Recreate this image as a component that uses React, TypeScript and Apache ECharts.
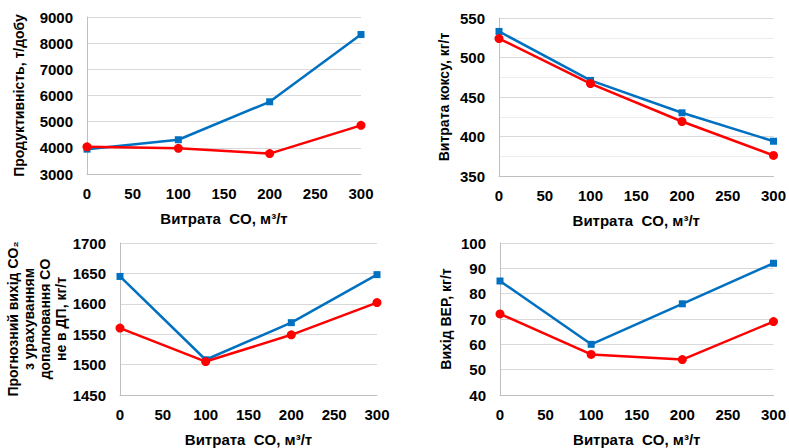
import React, { useEffect, useRef } from "react";
import * as echarts from "echarts";

const xValues = [0, 100, 200, 300];

const productivityBlue = [3950, 4310, 5760, 8330];
const productivityRed = [4040, 3980, 3780, 4860];

const cokeBlue = [533, 471, 430, 394];
const cokeRed = [524, 467, 419, 376];

const co2Blue = [1645, 1508, 1569, 1648];
const co2Red = [1560, 1505, 1549, 1602];

const verBlue = [85, 60, 76, 92];
const verRed = [72, 56, 54, 69];

const xTitle = "Витрата  CO, м³/т";
const yTitles = [
  "Продуктивність, т/добу",
  "Витрата коксу, кг/т",
  "Прогнозний вихід CO₂\nз урахуванням\nдопалювання CO\nне в ДП, кг/т",
  "Вихід ВЕР, кг/т",
];

const yRanges = [
  { min: 3000, max: 9000, interval: 1000, minor: false },
  { min: 350, max: 550, interval: 50, minor: true },
  { min: 1450, max: 1700, interval: 50, minor: false },
  { min: 40, max: 100, interval: 10, minor: false },
];

const BLUE = "#0070C0";
const RED = "#FF0000";
const FONT = "'Liberation Sans', Arial, sans-serif";

export default function App() {
  const ref = useRef<HTMLDivElement>(null);
  useEffect(() => {
    if (!ref.current) return;
    const chart = echarts.init(ref.current, undefined, { renderer: "svg" });
    const grids = [
      { left: 87, top: 17, width: 274, height: 157 },
      { left: 499, top: 18, width: 277, height: 158 },
      { left: 120, top: 243, width: 257, height: 157 },
      { left: 500, top: 243, width: 276, height: 158 },
    ];
    const nameGaps = [60, 47, 41, 46];
    const blues = [productivityBlue, cokeBlue, co2Blue, verBlue];
    const reds = [productivityRed, cokeRed, co2Red, verRed];
    const labelStyle = { color: "#000", fontWeight: "bold" as const, fontSize: 15, fontFamily: FONT };
    const titleStyle = { color: "#000", fontWeight: "bold" as const, fontSize: 14, fontFamily: FONT };
    const option: any = {
      animation: false,
      backgroundColor: "#fff",
      grid: grids,
      xAxis: grids.map((_, i) => ({
        type: "value",
        gridIndex: i,
        min: 0,
        max: 300,
        interval: 50,
        axisLine: { show: true, lineStyle: { color: "#bfbfbf", width: 1 } },
        axisTick: { show: false },
        splitLine: { show: false },
        axisLabel: { ...labelStyle, margin: 12 },
        name: xTitle,
        nameLocation: "middle",
        nameGap: 37,
        nameTextStyle: { ...titleStyle, fontSize: 15 },
      })),
      yAxis: grids.map((_, i) => ({
        type: "value",
        gridIndex: i,
        min: yRanges[i].min,
        max: yRanges[i].max,
        interval: yRanges[i].interval,
        axisLine: { show: true, lineStyle: { color: "#bfbfbf", width: 1 } },
        axisTick: { show: false },
        splitLine: { show: true, lineStyle: { color: "#d9d9d9", width: 1 } },
        minorTick: { show: false, splitNumber: 2 },
        minorSplitLine: { show: yRanges[i].minor, lineStyle: { color: "#ececec", width: 1 } },
        axisLabel: { ...labelStyle, margin: 14, formatter: (v: number) => String(v) },
        name: yTitles[i],
        nameLocation: "middle",
        nameGap: nameGaps[i],
        nameRotate: 90,
        nameTextStyle: { ...titleStyle, lineHeight: 16 },
      })),
      series: grids.flatMap((_, i) => [
        {
          type: "line",
          xAxisIndex: i,
          yAxisIndex: i,
          data: xValues.map((x, j) => [x, blues[i][j]]),
          symbol: "rect",
          symbolSize: 7,
          lineStyle: { color: BLUE, width: 2.5 },
          itemStyle: { color: BLUE },
          z: 2,
        },
        {
          type: "line",
          xAxisIndex: i,
          yAxisIndex: i,
          data: xValues.map((x, j) => [x, reds[i][j]]),
          symbol: "circle",
          symbolSize: 9,
          lineStyle: { color: RED, width: 2.5 },
          itemStyle: { color: RED },
          z: 3,
        },
      ]),
    };
    chart.setOption(option);
    return () => chart.dispose();
  }, []);
  return <div ref={ref} style={{ width: 789, height: 448, position: "absolute", left: 0, top: 0 }} />;
}
